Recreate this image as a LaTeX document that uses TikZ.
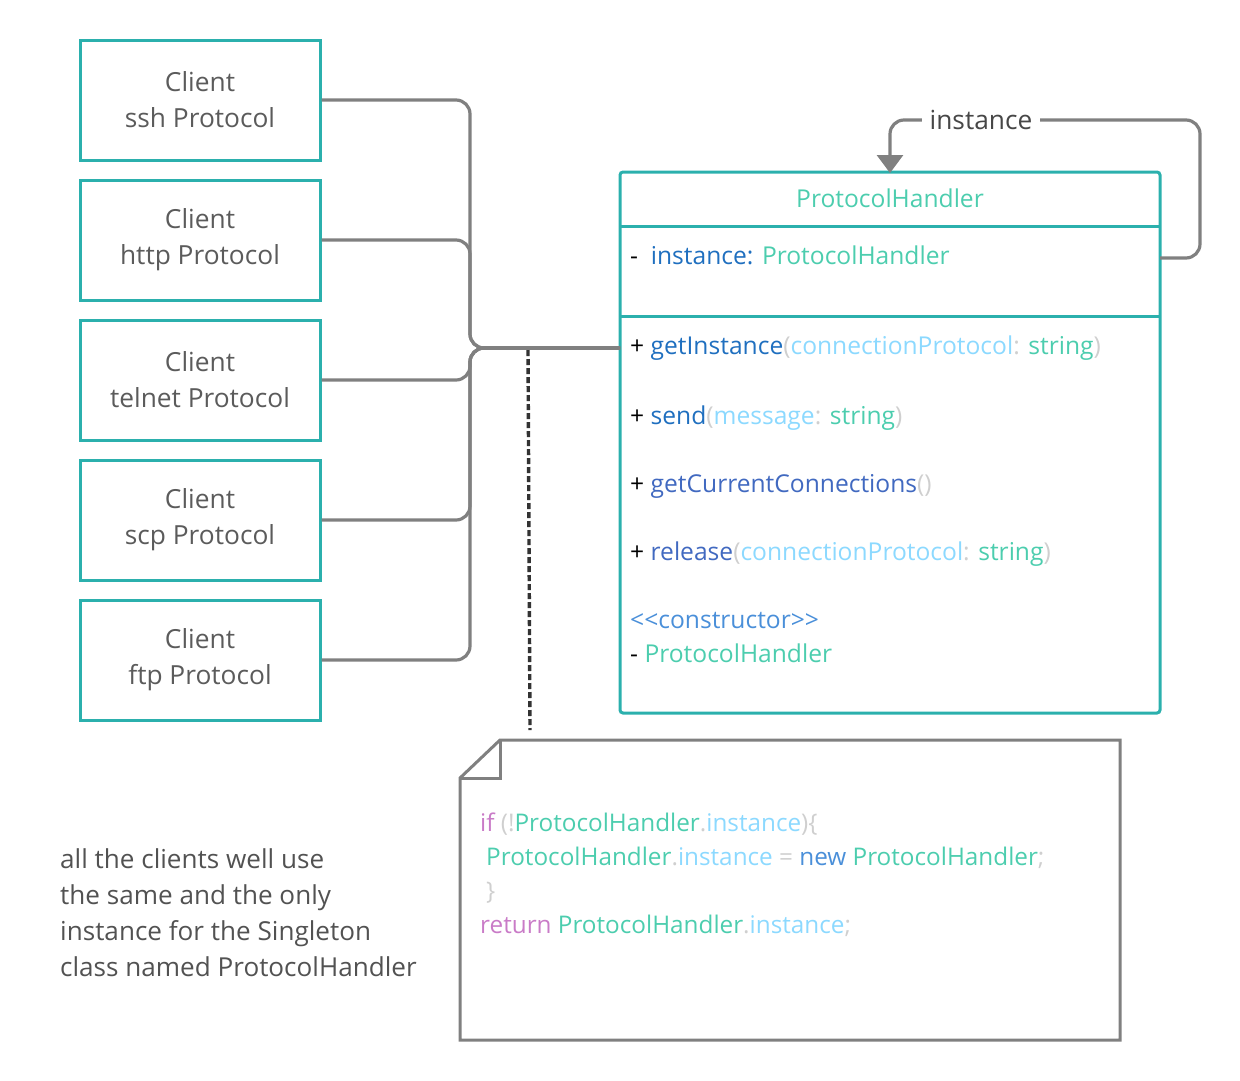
\documentclass[tikz,border=0pt]{standalone}
\usepackage{fontspec}
\setmainfont{Open Sans}
\usetikzlibrary{arrows.meta}
\definecolor{tealb}{HTML}{2BB0AD}
\definecolor{mint}{HTML}{4CCDAE}
\definecolor{dblue}{HTML}{1F6FBF}
\definecolor{iblue}{HTML}{4169C0}
\definecolor{lblue}{HTML}{8CD9FF}
\definecolor{pgray}{HTML}{CFCFCF}
\definecolor{cblue}{HTML}{4A8FD9}
\definecolor{purp}{HTML}{C97BC7}
\definecolor{lgray}{HTML}{808080}
\definecolor{tgray}{HTML}{5B5B5B}
\definecolor{dgray}{HTML}{333333}
\tikzset{
  client/.style={draw=tealb, line width=3pt, minimum width=240pt, minimum height=120pt, inner sep=0pt, align=center, text=tgray, font=\fontsize{26.3}{36}\selectfont},
  clsbox/.style={draw=tealb, line width=3pt, rounded corners=3pt, minimum width=540pt, minimum height=541pt, inner sep=0pt},
  divline/.style={draw=tealb, line width=3pt},
  conn/.style={draw=lgray, line width=3.2pt, rounded corners=14pt},
  member/.style={anchor=base west, inner sep=0pt, font=\fontsize{24.6}{29}\selectfont},
  codetxt/.style={anchor=base west, inner sep=0pt, font=\fontsize{24.3}{29}\selectfont},
  notetxt/.style={anchor=base west, inner sep=0pt, text=dgray!85, font=\fontsize{26.1}{36}\selectfont},
  notebox/.style={draw=lgray, line width=3pt, line join=miter},
  dashconn/.style={draw=dgray, line width=3.4pt, dash pattern=on 6pt off 3pt},
}
\begin{document}
\begin{tikzpicture}[x=1pt,y=-1pt]
\useasboundingbox (0,0) rectangle (1240,1080);
% clients
\node[client] (c1) at (200,100) {Client\\ssh Protocol};
\node[client] (c2) at (200,240) {Client\\http Protocol};
\node[client] (c3) at (200,380) {Client\\telnet Protocol};
\node[client] (c4) at (200,520) {Client\\scp Protocol};
\node[client] (c5) at (200,660) {Client\\ftp Protocol};
% class box
\node[clsbox] (cls) at (890,442.5) {};
\draw[divline] (620,226) -- (1160,226);
\draw[divline] (620,316) -- (1160,316);
\node[member, anchor=base, text=mint] (title) at (890,207) {ProtocolHandler};
\node[member] (attr) at (630,264) {- \ \textcolor{dblue}{instance:} \textcolor{mint}{ProtocolHandler}};
\node[member] (m1) at (630,354) {+ \textcolor{dblue}{getInstance}\textcolor{pgray}{(}\textcolor{lblue}{connectionProtocol}\textcolor{pgray}{:} \textcolor{mint}{string}\textcolor{pgray}{)}};
\node[member] (m2) at (630,424) {+ \textcolor{dblue}{send}\textcolor{pgray}{(}\textcolor{lblue}{message}\textcolor{pgray}{:} \textcolor{mint}{string}\textcolor{pgray}{)}};
\node[member] (m3) at (630,492) {+ \textcolor{iblue}{getCurrentConnections}\textcolor{pgray}{()}};
\node[member] (m4) at (630,560) {+ \textcolor{iblue}{release}\textcolor{pgray}{(}\textcolor{lblue}{connectionProtocol}\textcolor{pgray}{:} \textcolor{mint}{string}\textcolor{pgray}{)}};
\node[member, text=cblue] (m5) at (630,628) {<{}<constructor>{}>};
\node[member] (m6) at (630,662) {- \textcolor{mint}{ProtocolHandler}};
% connectors
\coordinate (hub) at (620,348);
\coordinate (attrR) at (1160,258);
\coordinate (top) at (890,172);
\draw[conn] (c1.east) -- (470,100) -- (470,348) -- (hub);
\draw[conn] (c2.east) -- (470,240) -- (470,348) -- (hub);
\draw[conn] (c3.east) -- (470,380) -- (470,348) -- (hub);
\draw[conn] (c4.east) -- (470,520) -- (470,348) -- (hub);
\draw[conn] (c5.east) -- (470,660) -- (470,348) -- (hub);
\draw[conn, -{Triangle[width=26pt,length=18pt]}, shorten >=-1pt] (attrR) -- (1200,258) -- (1200,120) -- (890,120) -- (top);
\node[fill=white, inner xsep=8pt, inner ysep=4pt, text=dgray!90, font=\fontsize{26.3}{30}\selectfont] (lbl) at (981,120) {instance};
% note
\coordinate (dtop) at (528,350);
\coordinate (dbot) at (530,730);
\draw[dashconn] (dtop) -- (dbot);
\draw[notebox] (500,740) -- (1120,740) -- (1120,1040) -- (460,1040) -- (460,778) -- cycle;
\draw[notebox] (500,740) -- (500,778) -- (460,778);
\node[codetxt] (k1) at (480,831) {\textcolor{purp}{if} \textcolor{pgray}{(!}\textcolor{mint}{ProtocolHandler}\textcolor{pgray}{.}\textcolor{lblue}{instance}\textcolor{pgray}{)\{}};
\node[codetxt] (k2) at (486,865) {\textcolor{mint}{ProtocolHandler}\textcolor{pgray}{.}\textcolor{lblue}{instance} \textcolor{pgray}{=} \textcolor{cblue}{new} \textcolor{mint}{ProtocolHandler}\textcolor{pgray}{;}};
\node[codetxt] (k3) at (486,899) {\textcolor{pgray}{\}}};
\node[codetxt] (k4) at (480,933) {\textcolor{purp}{return} \textcolor{mint}{ProtocolHandler}\textcolor{pgray}{.}\textcolor{lblue}{instance}\textcolor{pgray}{;}};
% side text
\node[notetxt] (s1) at (60,868) {all the clients well use};
\node[notetxt] (s2) at (60,904) {the same and the only};
\node[notetxt] (s3) at (60,940) {instance for the Singleton};
\node[notetxt] (s4) at (60,976) {class named ProtocolHandler};
\end{tikzpicture}
\end{document}
